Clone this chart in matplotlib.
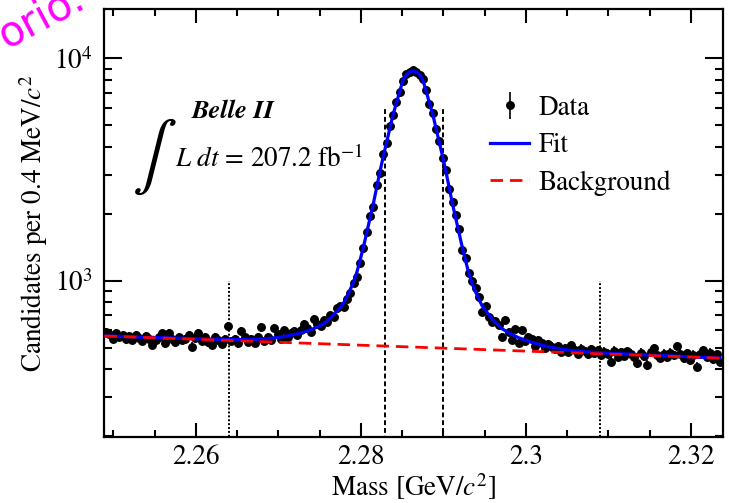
import numpy as np
import matplotlib
matplotlib.use("Agg")
import matplotlib.pyplot as plt
from matplotlib.ticker import FixedLocator, LogLocator, NullFormatter, FuncFormatter
from matplotlib.lines import Line2D

plt.rcParams['font.family'] = ['STIXGeneral', 'DejaVu Serif']
plt.rcParams['mathtext.fontset'] = 'stix'

# binning: 0.4 MeV bins starting at 2.2489 GeV
bin_lo = 2.2489
bin_w = 0.0004

# fitted curve (total) at the bin centres
fit_vals = [
    564, 563, 563, 562, 562, 561, 560, 560, 559, 559,
    558, 557, 557, 556, 556, 555, 555, 554, 554, 553,
    552, 552, 551, 551, 550, 550, 549, 548, 548, 548,
    547, 547, 546, 546, 545, 545, 544, 544, 544, 544,
    543, 543, 544, 544, 544, 545, 545, 547, 548, 549,
    551, 553, 556, 558, 561, 565, 569, 573, 578, 582,
    588, 594, 601, 610, 619, 630, 641, 661, 681, 702,
    731, 761, 795, 849, 913, 987, 1092, 1241, 1420, 1650,
    1919, 2224, 2628, 3102, 3622, 4191, 4861, 5610, 6309, 7119,
    8008, 8457, 8707, 8800, 8706, 8455, 8004, 7114, 6303, 5603,
    4852, 4181, 3611, 3090, 2614, 2209, 1903, 1633, 1402, 1221,
    1071, 965, 889, 824, 769, 734, 703, 672, 650, 629,
    608, 595, 583, 573, 563, 554, 547, 540, 535, 529,
    523, 518, 513, 508, 505, 501, 498, 495, 492, 490,
    487, 486, 484, 482, 481, 479, 478, 477, 476, 475,
    474, 473, 472, 471, 470, 470, 469, 468, 468, 467,
    466, 465, 465, 464, 463, 463, 462, 461, 461, 460,
    459, 459, 458, 457, 457, 456, 455, 455, 454, 453,
    453, 452, 451, 451, 450, 449, 449,
]

# observed candidates per bin
data_vals = [
    590, 575, 548, 580, 560, 572, 545, 566, 540, 568,
    552, 535, 562, 548, 514, 540, 556, 580, 523, 580,
    545, 530, 558, 540, 548, 570, 505, 552, 580, 538,
    556, 528, 514, 560, 540, 520, 548, 628, 535, 545,
    523, 595, 560, 530, 548, 525, 556, 620, 535, 560,
    540, 615, 575, 548, 600, 556, 580, 592, 570, 600,
    640, 610, 590, 672, 640, 625, 663, 655, 700, 690,
    752, 770, 760, 830, 880, 975, 1040, 1200, 1400, 1660,
    1950, 2150, 2700, 3050, 3700, 4150, 4950, 5550, 6400, 7050,
    7950, 8500, 8650, 8850, 8680, 8400, 8100, 7200, 6250, 5700,
    4800, 4250, 3560, 3150, 2580, 2260, 1975, 1700, 1380, 1260,
    1080, 1000, 930, 847, 725, 770, 690, 654, 660, 630,
    560, 665, 590, 540, 605, 526, 598, 537, 560, 545,
    510, 540, 525, 500, 520, 505, 492, 510, 480, 498,
    478, 514, 490, 470, 495, 482, 468, 492, 475, 488,
    463, 480, 470, 432, 485, 452, 478, 460, 482, 470,
    455, 425, 475, 458, 418, 480, 497, 465, 450, 470,
    452, 475, 462, 509, 470, 448, 472, 440, 465, 411,
    470, 488, 455, 475, 445, 468, 432,
]

# linear background, end points
bkg_mass = [2.2489, 2.3239]
bkg_vals = [564, 448]

# signal window (dashed) and sideband edges (dotted)
signal_edges = [2.2829, 2.2899]
signal_top = 5900
sideband_edges = [2.2640, 2.3090]
sideband_top = 1000

xtick_vals = [2.26, 2.28, 2.30, 2.32]
xtick_labels = ["2.26", "2.28", "2.3", "2.32"]

mass = bin_lo + bin_w * (np.arange(len(data_vals)) + 0.5)
data = np.array(data_vals, dtype=float)

fs = 19.5
bkg_dash = (0, (4.5, 2.5))

fig = plt.figure(figsize=(7.29, 5.03), dpi=100)
ax = fig.add_axes([104 / 729, 66 / 503, 619 / 729, 428 / 503])

ax.errorbar(mass, data, yerr=np.sqrt(data), fmt='o', color='black', ms=5.4,
            elinewidth=1.2, capsize=0, zorder=2)
ax.plot(mass, fit_vals, color='blue', lw=2.3, zorder=3)
ax.plot(bkg_mass, bkg_vals, color='red', lw=2.0, ls=bkg_dash, zorder=4)

for xe in signal_edges:
    ax.plot([xe, xe], [150, signal_top], color='black', lw=1.4, ls=(0, (2.5, 1.5)), zorder=1)
for xe in sideband_edges:
    ax.plot([xe, xe], [150, sideband_top], color='black', lw=1.4, ls=(0, (1, 1)), zorder=1)

ax.set_yscale('log')
ax.set_xlim(2.24885, 2.32388)
ax.set_ylim(198, 16700)

ax.xaxis.set_major_locator(FixedLocator(xtick_vals))
ax.set_xticklabels(xtick_labels)
ax.xaxis.set_minor_locator(FixedLocator(np.arange(2.25, 2.3245, 0.005)))
ax.yaxis.set_major_locator(LogLocator(base=10, numticks=10))
ax.yaxis.set_minor_locator(LogLocator(base=10, subs=np.arange(2, 10), numticks=20))
ax.yaxis.set_minor_formatter(NullFormatter())
ax.yaxis.set_major_formatter(FuncFormatter(lambda v, p: r'$10^{%d}$' % round(np.log10(v))))

ax.tick_params(which='both', direction='in', top=True, right=True, width=1.5, labelsize=fs)
ax.tick_params(axis='x', which='major', length=10, pad=6)
ax.tick_params(axis='x', which='minor', length=5)
ax.tick_params(axis='y', which='major', length=13, pad=8)
ax.tick_params(axis='y', which='minor', length=6)
for s in ax.spines.values():
    s.set_linewidth(1.6)

ax.set_xlabel(r'Mass [GeV/$c^2$]', fontsize=fs, labelpad=1)
ax.set_ylabel(r'Candidates per 0.4 MeV/$c^2$', fontsize=fs, labelpad=3)

ax.text(0.208, 0.762, 'Belle II', transform=ax.transAxes, fontsize=19,
        fontweight='bold', fontstyle='italic', ha='center', va='center')
ax.text(0.071, 0.655, '\u222b', transform=ax.transAxes, fontsize=48,
        ha='center', va='center')
ax.text(0.115, 0.648, r'$L\ dt$ = 207.2 fb$^{\mathregular{-1}}$', transform=ax.transAxes,
        fontsize=fs, ha='left', va='center')

data_h = ax.errorbar([], [], yerr=[], fmt='o', color='black', ms=5.4, elinewidth=1.2)
fit_h = Line2D([], [], color='blue', lw=2.3)
bkg_h = Line2D([], [], color='red', lw=2.0, ls=bkg_dash)
leg = ax.legend([data_h, fit_h, bkg_h], ['Data', 'Fit', 'Background'],
                loc='upper left', bbox_to_anchor=(0.606, 0.823), frameon=False,
                fontsize=fs, handlelength=1.45, handletextpad=0.35, labelspacing=0.45,
                borderaxespad=0)

fig.text(-0.012, 0.905, 'orio.', rotation=28, color='#ff00ff', fontsize=30,
         family='DejaVu Sans')

fig.savefig('out.png', dpi=100)
